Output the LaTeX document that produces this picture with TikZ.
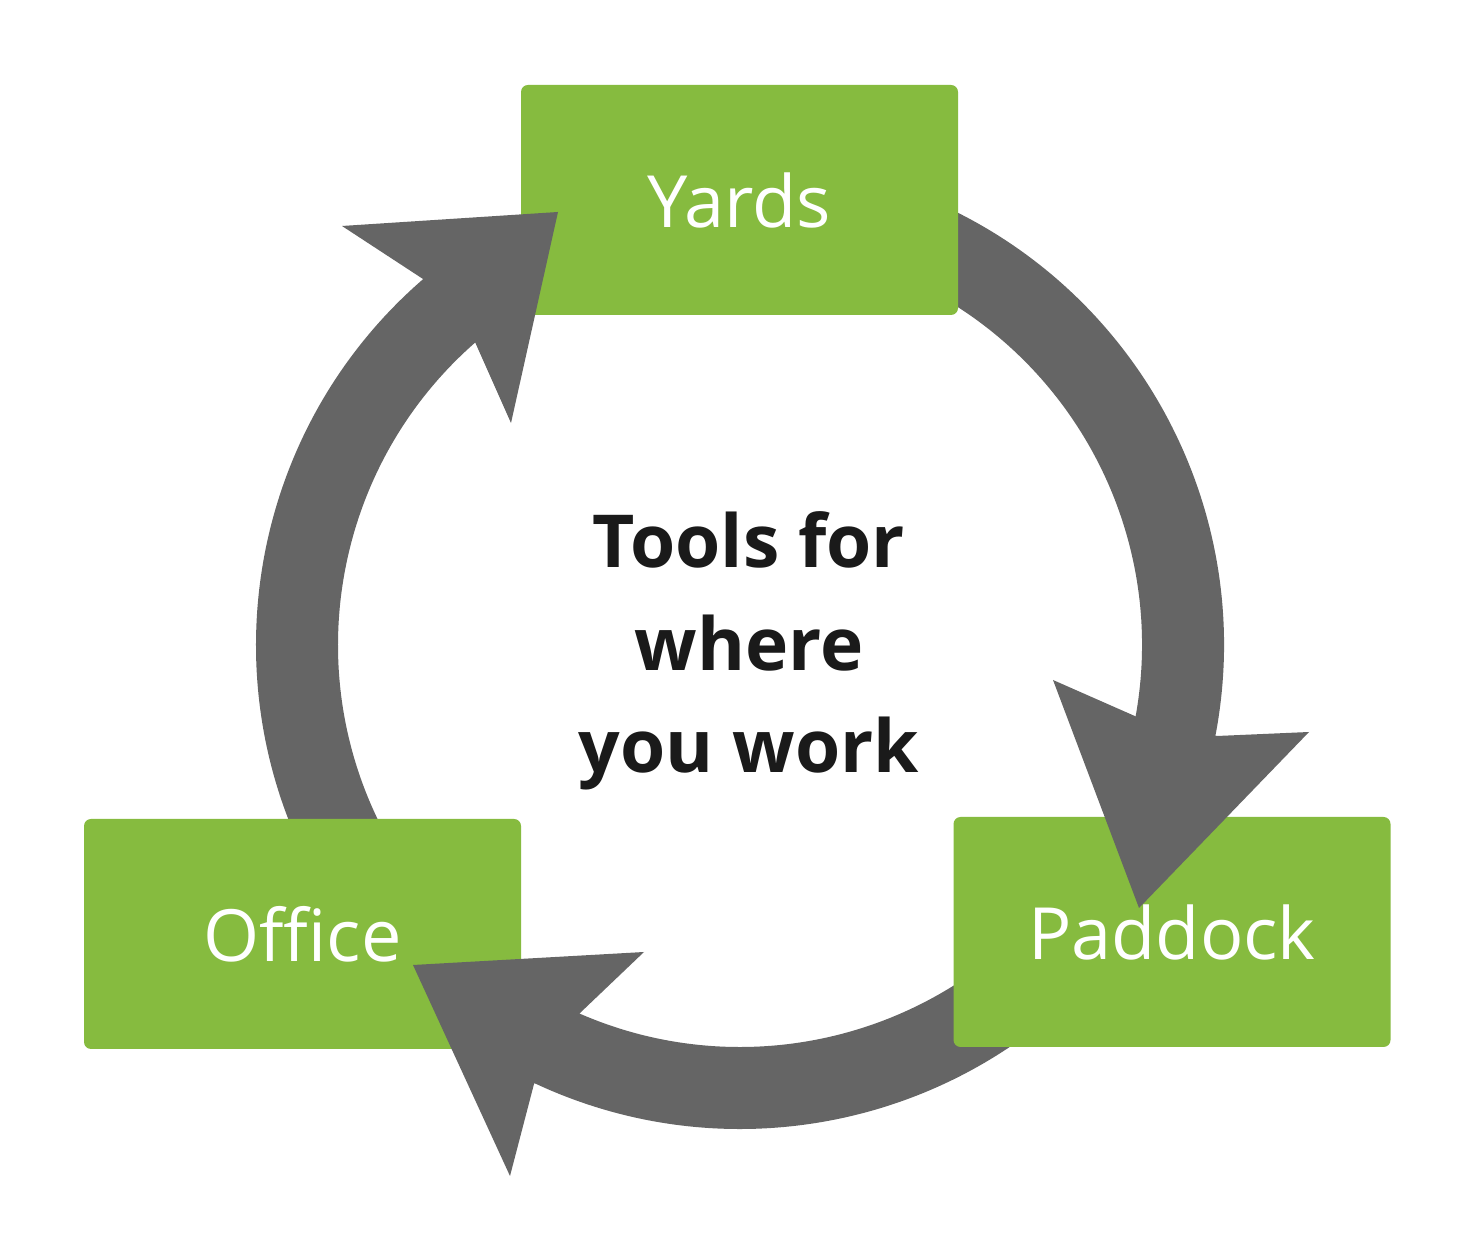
\documentclass[tikz,border=0pt]{standalone}
\usepackage{fontspec}
\setmainfont{Open Sans}
\definecolor{boxgreen}{RGB}{134,187,63}
\definecolor{ringgray}{RGB}{101,101,101}
\definecolor{textdark}{RGB}{26,26,26}
\begin{document}
\begin{tikzpicture}[x=0.1mm,y=0.1mm,
  ring/.style={fill=ringgray},
  box/.style={fill=boxgreen, rounded corners=0.7mm, minimum width=43.7mm, minimum height=23mm, inner sep=0pt},
  boxlabel/.style={text=white, font=\fontsize{20.5pt}{24pt}\selectfont, inner sep=0pt},
  centerlabel/.style={text=textdark, font=\bfseries\fontsize{20.8pt}{29.2pt}\selectfont, align=center, inner sep=0pt}]
\fill[white] (0,0) rectangle (1480,1252);
\useasboundingbox (0,0) rectangle (1480,1252);
\coordinate (c) at (740,607);
% ring segments (behind the boxes)
\begin{scope}[shift={(c)}]
  \fill[ring] (215:484) arc[start angle=215,end angle=129,radius=484] -- (129:402) arc[start angle=129,end angle=215,radius=402] -- cycle;
  \fill[ring] (70:484) arc[start angle=70,end angle=-12.5,radius=484] -- (-12.5:402) arc[start angle=-12.5,end angle=70,radius=402] -- cycle;
  \fill[ring] (-35:484) arc[start angle=-35,end angle=-116.3,radius=484] -- (-116.3:402) arc[start angle=-116.3,end angle=-35,radius=402] -- cycle;
\end{scope}
% boxes
\node[box] (yards) at (739.5,1052) {};
\node[box] (paddock) at (1172,320) {};
\node[box] (office) at (302.5,318) {};
% arrowheads (in front of the boxes)
\fill[ring] (342,1026) -- (423,973) -- (475,910) -- (511,829) -- (558,1040) -- cycle;
\fill[ring] (1053,572) -- (1137,535) -- (1217,516) -- (1309,520) -- (1139,344) -- cycle;
\fill[ring] (644,300) -- (580,239) -- (534,168) -- (510,76) -- (413,287) -- cycle;
% labels
\node[boxlabel] (yardsText) at (yards.center) {Yards};
\node[boxlabel] (paddockText) at (paddock.center) {Paddock};
\node[boxlabel] (officeText) at (office.center) {Office};
\node[centerlabel] (title) at (749,601) {Tools for\\where\\you work};
\end{tikzpicture}
\end{document}
